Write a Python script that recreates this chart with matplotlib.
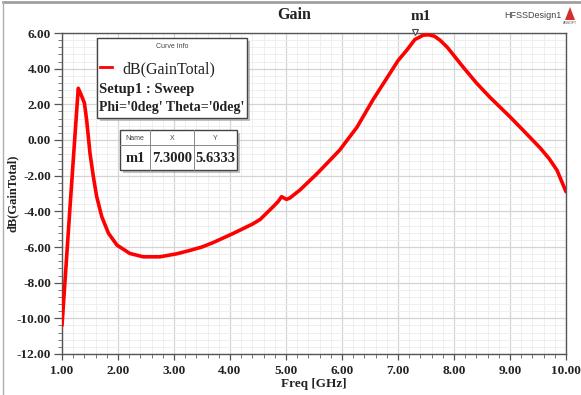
import matplotlib
matplotlib.use('Agg')

import matplotlib.pyplot as plt
from matplotlib.patches import Rectangle, Polygon
from matplotlib.lines import Line2D
from matplotlib.ticker import MultipleLocator

# Gain curve
freq = [1.00, 1.14, 1.29, 1.34, 1.40, 1.44, 1.50, 1.56, 1.62, 1.71, 1.83, 1.98,
        2.21, 2.45, 2.75, 3.05, 3.25, 3.50, 3.70, 4.05, 4.41, 4.54, 4.77, 4.86,
        4.92, 5.01, 5.07, 5.25, 5.55, 5.75, 5.96, 6.27, 6.55, 6.86, 7.00, 7.16,
        7.30, 7.45, 7.55, 7.65, 7.75, 7.88, 8.00, 8.16, 8.40, 8.64, 9.00, 9.23,
        9.54, 9.70, 9.84, 10.00]
gain = [-10.4, -3.9, 2.9, 2.55, 2.07, 1.12, -0.75, -2.06, -3.18, -4.30, -5.23, -5.89,
        -6.36, -6.55, -6.55, -6.38, -6.22, -6.0, -5.75, -5.25, -4.7, -4.45, -3.74, -3.45,
        -3.18, -3.33, -3.25, -2.8, -1.9, -1.25, -0.56, 0.73, 2.24, 3.76, 4.45, 5.05,
        5.63, 5.88, 5.9, 5.82, 5.6, 5.2, 4.73, 4.1, 3.2, 2.4, 1.3, 0.56,
        -0.45, -1.05, -1.7, -2.9]

marker_name = 'm1'
marker_x = 7.3
marker_y = 5.6333

x_ticks = [1, 2, 3, 4, 5, 6, 7, 8, 9, 10]
y_ticks = [-12, -10, -8, -6, -4, -2, 0, 2, 4, 6]

W, H = 581, 395
serif = 'Liberation Serif'
sans = 'Liberation Sans'


def fx(px):
    return px / W


def fy(py):
    return 1 - py / H


fig = plt.figure(figsize=(W / 100, H / 100), dpi=100)
fig.patch.set_facecolor('white')

# outer frame lines (top and left)
fig.add_artist(Line2D([fx(3), 1], [fy(2), fy(2)], color='#a0a0a0', lw=2))
fig.add_artist(Line2D([fx(3), fx(3)], [fy(2), 0], color='#b0b0b0', lw=1))

ax = fig.add_axes([fx(62), fy(354), fx(566) - fx(62), fy(33) - fy(354)])
ax.plot(freq, gain, color='#ff0000', lw=2.6, solid_joinstyle='round',
        solid_capstyle='round', zorder=3)
ax.set_xlim(1, 10)
ax.set_ylim(-12, 6)
ax.set_xticks(x_ticks)
ax.set_yticks(y_ticks)
ax.set_xticklabels([f'{v:.2f}' for v in x_ticks])
ax.set_yticklabels([f'{v:.2f}' for v in y_ticks])
ax.xaxis.set_minor_locator(MultipleLocator(0.2))
ax.yaxis.set_minor_locator(MultipleLocator(0.4))
ax.grid(which='major', color='#d4d4d4', lw=0.9)
ax.grid(which='minor', color='#ececec', lw=0.6)
ax.set_axisbelow(True)
for s in ax.spines.values():
    s.set_color('#555555')
    s.set_linewidth(1.0)
ax.tick_params(which='major', length=6, width=0.9, color='#555555', pad=2)
ax.tick_params(which='minor', length=3, width=0.7, color='#777777')
ax.tick_params(axis='x', which='major', length=4, pad=4)
for lbl in ax.get_xticklabels() + ax.get_yticklabels():
    lbl.set_fontfamily(serif)
    lbl.set_fontweight('bold')
    lbl.set_fontsize(9.5)
    lbl.set_color('#222222')

ax.set_xlabel('Freq [GHz]', fontfamily=serif, fontweight='bold', fontsize=9.5,
              labelpad=1, color='#222222')
fig.text(fx(13), fy(193), 'dB(GainTotal)', rotation=90, ha='center', va='center',
         fontfamily=serif, fontweight='bold', fontsize=9, color='#222222')

# marker m1
ax.plot([marker_x], [6.05], marker='v', ms=5, mfc='white', mec='#444444',
        mew=0.8, clip_on=False, zorder=5)
ax.annotate(marker_name, (marker_x, 6), xytext=(4, 7), textcoords='offset points',
            ha='center', va='bottom', fontfamily=serif, fontweight='bold',
            fontsize=11, color='#222222', annotation_clip=False)

# titles
fig.text(fx(294), fy(15), 'Gain', ha='center', va='center', fontfamily=serif,
         fontweight='bold', fontsize=11.5, color='#222222')
fig.text(fx(533), fy(15), 'HFSSDesign1', ha='center', va='center',
         fontfamily=sans, fontsize=6.5, color='#444444')
fig.add_artist(Polygon([[fx(565), fy(20)], [fx(575), fy(20)], [fx(570), fy(7)]],
                       closed=True, transform=fig.transFigure,
                       facecolor='#d23030', edgecolor='none'))
fig.text(fx(570), fy(23), 'ANSOFT', ha='center', va='center', fontfamily=sans,
         fontsize=2.5, color='#555555')


def box(x0, y0, x1, y1):
    fig.add_artist(Rectangle((fx(x0 + 3), fy(y1 + 3)), fx(x1 - x0), fy(y0) - fy(y1),
                             transform=fig.transFigure, facecolor='#9a9a9a',
                             edgecolor='none', alpha=0.6, zorder=6))
    fig.add_artist(Rectangle((fx(x0), fy(y1)), fx(x1 - x0), fy(y0) - fy(y1),
                             transform=fig.transFigure, facecolor='white',
                             edgecolor='#444444', lw=1.0, zorder=7))


# Curve Info legend
box(97, 38, 247, 118)
fig.text(fx(172), fy(46), 'Curve Info', ha='center', va='center', fontfamily=sans,
         fontsize=5, color='#444444', zorder=8)
fig.add_artist(Line2D([fx(100), fx(112)], [fy(67), fy(67)], color='#ff0000', lw=2,
                      zorder=8))
fig.text(fx(122), fy(69), 'dB(GainTotal)', ha='left', va='center', fontfamily=serif,
         fontsize=11.5, color='#222222', zorder=8)
fig.text(fx(99), fy(89), 'Setup1 : Sweep', ha='left', va='center', fontfamily=serif,
         fontweight='bold', fontsize=10.5, color='#222222', zorder=8)
fig.text(fx(99), fy(107), "Phi='0deg' Theta='0deg'", ha='left', va='center',
         fontfamily=serif, fontweight='bold', fontsize=10, color='#222222', zorder=8)

# marker table
box(120, 130, 237, 170)
fig.add_artist(Line2D([fx(120), fx(237)], [fy(145), fy(145)], color='#888888',
                      lw=0.7, zorder=8))
for cx in (150, 194):
    fig.add_artist(Line2D([fx(cx), fx(cx)], [fy(130), fy(170)], color='#888888',
                          lw=0.7, zorder=8))
for cx, t in ((135, 'Name'), (172, 'X'), (215, 'Y')):
    fig.text(fx(cx), fy(138), t, ha='center', va='center', fontfamily=sans,
             fontsize=5, color='#444444', zorder=8)
for cx, t in ((135, marker_name), (172, f'{marker_x:.4f}'), (215, f'{marker_y:.4f}')):
    fig.text(fx(cx), fy(158), t, ha='center', va='center', fontfamily=serif,
             fontweight='bold', fontsize=10.5, color='#222222', zorder=8)

plt.savefig('out.png', dpi=100)
